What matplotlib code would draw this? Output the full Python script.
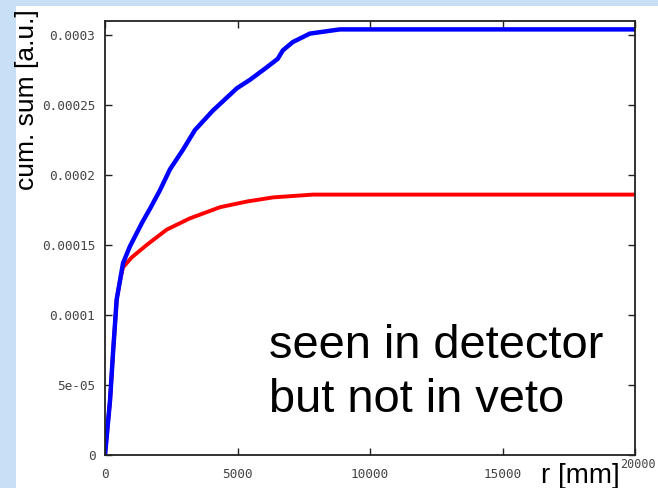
import matplotlib
matplotlib.use('Agg')
import matplotlib.pyplot as plt
import matplotlib.transforms as mtransforms
from matplotlib.patches import Rectangle

# cumulative sums
r_blue = [0, 190, 310, 440, 570, 680, 940, 1400, 1700, 2070, 2450, 2940, 3390, 4070,
          4980, 5470, 6110, 6520, 6710, 7090, 7730, 8480, 8860, 20000]
s_blue = [0, 3.9e-5, 7.5e-5, 1.11e-4, 1.25e-4, 1.37e-4, 1.49e-4, 1.66e-4, 1.76e-4,
          1.89e-4, 2.04e-4, 2.18e-4, 2.32e-4, 2.46e-4, 2.62e-4, 2.68e-4, 2.77e-4,
          2.83e-4, 2.89e-4, 2.95e-4, 3.01e-4, 3.03e-4, 3.04e-4, 3.04e-4]
r_red = [0, 190, 310, 440, 570, 680, 1000, 1570, 2330, 3200, 4340, 5340, 6340, 7840, 20000]
s_red = [0, 3.9e-5, 7.5e-5, 1.11e-4, 1.25e-4, 1.34e-4, 1.41e-4, 1.50e-4, 1.61e-4,
         1.69e-4, 1.77e-4, 1.81e-4, 1.84e-4, 1.86e-4, 1.86e-4]

x_ticks = [0, 5000, 10000, 15000, 20000]
y_ticks = [0, 5e-5, 1e-4, 1.5e-4, 2e-4, 2.5e-4, 3e-4]
y_ticklabels = ['0', '5e-05', '0.0001', '0.00015', '0.0002', '0.00025', '0.0003']

fig = plt.figure(figsize=(6.58, 4.88), dpi=100)
fig.patch.set_facecolor('#c9dff6')
fig.patches.append(Rectangle((16 / 658, 0), 1, 1 - 6 / 488, transform=fig.transFigure,
                             facecolor='white', edgecolor='none', zorder=-5))

ax = fig.add_axes([105 / 658, 33 / 488, 530 / 658, 434 / 488])
ax.set_zorder(2)
ax.plot(r_red, s_red, color='#ff0000', lw=2.8, solid_joinstyle='miter')
ax.plot(r_blue, s_blue, color='#0000ff', lw=3.2, solid_joinstyle='miter')

ax.set_xlim(0, 20000)
ax.set_ylim(0, 0.00031)
ax.set_xticks(x_ticks)
ax.set_xticklabels([str(t) for t in x_ticks])
ax.set_yticks(y_ticks)
ax.set_yticklabels(y_ticklabels)
ax.tick_params(direction='in', length=5, width=1, top=True, right=True,
               colors='#222222', labelcolor='#444444')
ax.tick_params(axis='x', pad=9)
ax.tick_params(axis='y', pad=7)
for lbl in ax.get_yticklabels() + ax.get_xticklabels():
    lbl.set_family('DejaVu Sans Mono')
    lbl.set_fontsize(9.2)
for sp in ax.spines.values():
    sp.set_linewidth(1.3)
    sp.set_color('#222222')

# last x tick label sits a little higher, like a superscript next to the unit
last = ax.get_xticklabels()[-1]
last.set_fontsize(8.5)
last.set_transform(last.get_transform() + mtransforms.ScaledTranslation(0.03, 0.09, fig.dpi_scale_trans))

fig.text(27 / 658, 1 - 100 / 488, 'cum. sum [a.u.]', rotation=90, ha='center', va='center',
         family='Liberation Sans', fontsize=19, zorder=3)
fig.text(580 / 658, 1 - 483 / 488, 'r [mm]', ha='center', va='baseline',
         family='Liberation Sans', fontsize=20, zorder=3)
ax.text(269 / 658, 1 - 324 / 488, 'seen in detector\nbut not in veto', transform=fig.transFigure,
        ha='left', va='top', family='Liberation Sans', fontsize=33.8, linespacing=1.28)

fig.savefig('out.png', dpi=100, facecolor=fig.get_facecolor())
